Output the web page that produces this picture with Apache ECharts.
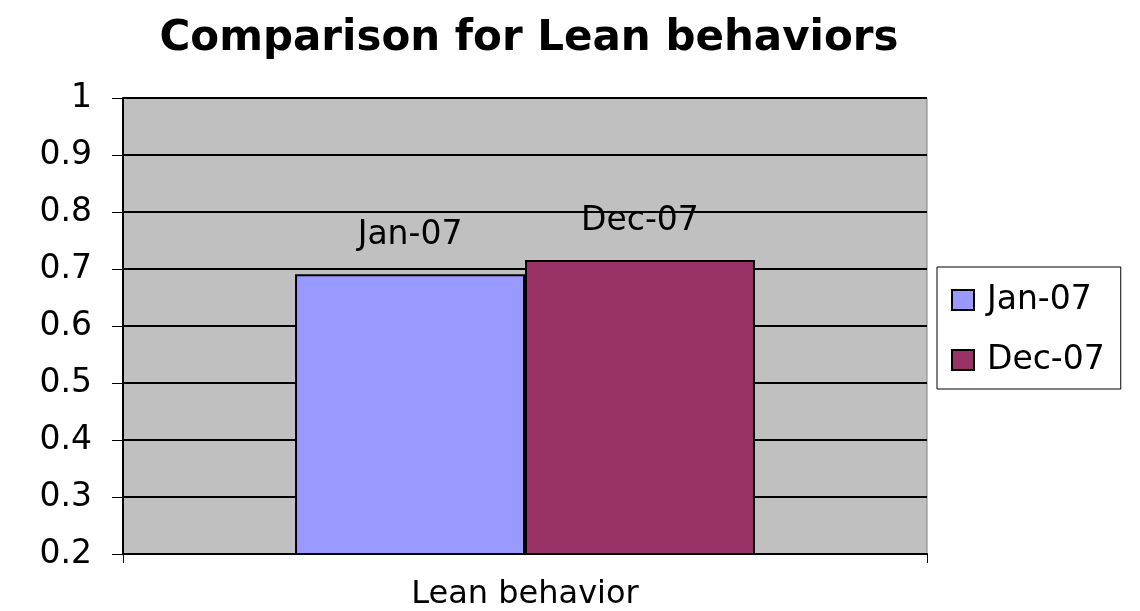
<!DOCTYPE html>
<html>
<head>
<meta charset="utf-8">
<script src="https://cdn.jsdelivr.net/npm/echarts@6/dist/echarts.min.js"></script>
<style>html,body{margin:0;padding:0;background:#fff;}#c{width:1140px;height:611px;}</style>
</head>
<body>
<div id="c"></div>
<script>
var categories = ['Lean behavior'];
var seriesNames = ['Jan-07', 'Dec-07'];
var jan07 = [0.691];
var dec07 = [0.716];
var seriesColors = ['#9999FF', '#993366'];

var chart = echarts.init(document.getElementById('c'), null, {renderer: 'canvas'});
var font = 'DejaVu Sans, Liberation Sans, Arial, sans-serif';
var dataSets = [jan07, dec07];
var series = seriesNames.map(function (n, i) {
  return {
    name: n,
    type: 'bar',
    data: dataSets[i],
    barGap: '0%',
    barCategoryGap: '42.8%',
    itemStyle: {color: seriesColors[i], borderColor: '#000', borderWidth: 2},
    label: {show: true, position: 'top', distance: 22, formatter: '{a}', color: '#000', fontFamily: font, fontSize: 33},
    emphasis: {disabled: true}
  };
});
chart.setOption({
  animation: false,
  backgroundColor: '#fff',
  title: {
    text: 'Comparison for Lean behaviors',
    left: 524, top: 13, textAlign: 'center',
    textStyle: {fontFamily: font, fontSize: 42, fontWeight: 'bold', color: '#000'}
  },
  legend: {
    orient: 'vertical', left: 937, top: 267,
    padding: [16, 16, 12, 14], itemGap: 26,
    itemWidth: 22, itemHeight: 20, icon: 'rect',
    borderColor: '#000', borderWidth: 1, backgroundColor: '#fff',
    itemStyle: {borderColor: '#000', borderWidth: 2},
    textStyle: {fontFamily: font, fontSize: 33, color: '#000', padding: [0, 0, 0, 8], lineHeight: 34},
    data: seriesNames
  },
  grid: {
    left: 123, right: 213, top: 98, bottom: 55,
    show: true, backgroundColor: '#C0C0C0', borderColor: '#808080', borderWidth: 1,
    containLabel: false
  },
  xAxis: {
    type: 'category', data: categories, boundaryGap: true,
    axisLine: {lineStyle: {color: '#000', width: 2}},
    axisTick: {show: true, length: 9, lineStyle: {color: '#000'}},
    axisLabel: {fontFamily: font, fontSize: 32, color: '#000', margin: 25}
  },
  yAxis: {
    type: 'value', min: 0.2, max: 1, interval: 0.1,
    axisLine: {show: true, lineStyle: {color: '#000', width: 2}},
    axisTick: {show: true, length: 11, lineStyle: {color: '#000'}},
    axisLabel: {fontFamily: font, fontSize: 33, color: '#000', margin: 31,
      formatter: function (v) { return String(Math.round(v * 10) / 10); }},
    splitLine: {show: true, lineStyle: {color: '#000', width: 2}}
  },
  series: series
});
</script>
</body>
</html>
